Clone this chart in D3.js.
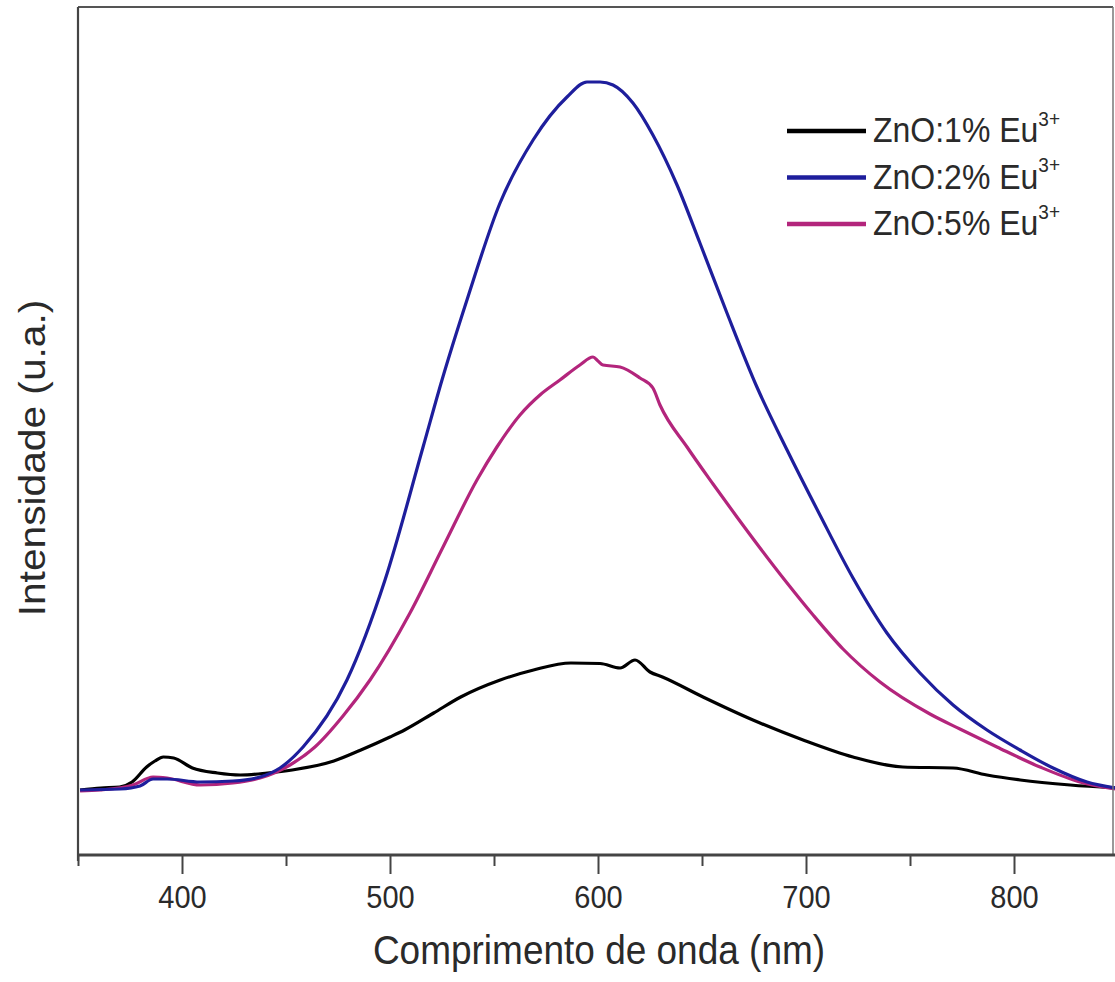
<!DOCTYPE html>
<html>
<head>
<meta charset="utf-8">
<script src="https://cdn.jsdelivr.net/npm/d3@7"></script>
<style>
  html, body { margin: 0; padding: 0; background: #fff; }
  svg { display: block; }
  text { font-family: "Liberation Sans", Arial, Helvetica, sans-serif; fill: #2a2a2a; }
</style>
</head>
<body>
<svg id="chart" width="1115" height="982"></svg>
<script>
// ---- Data ----
const seriesNames = ["ZnO:1% Eu", "ZnO:2% Eu", "ZnO:5% Eu"];
const seriesColors = ["#000000", "#1e1e9c", "#b3257c"];

const black_nm = [351, 361, 370, 376, 383, 387, 391, 396, 405, 417, 428, 441, 453, 473, 486, 500, 507, 521, 534, 553, 569, 587, 601, 610.6, 617.8, 625, 631, 650.5, 674.5, 698.6, 722.6, 746.6, 770.7, 787, 803, 827, 849];
const black_I  = [-10, 10, 20, 70, 220, 280, 320, 310, 210, 160, 140, 160, 190, 280, 390, 520, 590, 760, 920, 1090, 1190, 1260, 1255, 1210, 1290, 1170, 1120, 920, 690, 490, 320, 220, 210, 140, 90, 40, 10];

const blue_nm = [351, 370.2, 379.8, 386.1, 392.8, 408.7, 424.5, 437.5, 447.1, 458.2, 479.3, 497.6, 515.9, 525, 537, 552.9, 568.8, 585.1, 594.7, 601, 607.2, 616.8, 626.4, 638, 649, 662, 676.4, 690.9, 706.7, 722.6, 738.9, 754.8, 770.7, 787, 802.9, 818.8, 835.1, 848.6];
const blue_I  = [-10, 0, 30, 100, 100, 70, 80, 120, 210, 420, 1090, 2090, 3420, 4090, 4890, 5860, 6490, 6920, 7070, 7070, 7040, 6860, 6540, 6040, 5460, 4760, 4020, 3390, 2740, 2110, 1560, 1160, 840, 590, 390, 210, 70, 10];

const magenta_nm = [351, 360.6, 376.4, 386.1, 392.8, 408.7, 424.5, 437.5, 451.9, 463.9, 477.4, 490.4, 509.6, 525.5, 541.8, 551.4, 562.5, 572.1, 581.7, 591.3, 597.6, 600, 602.4, 610.6, 620.2, 626.4, 629.8, 642.8, 655.3, 666.8, 677.9, 690.9, 703.4, 717.8, 735.6, 759.6, 774, 791.8, 812.5, 831.7, 848.6];
const magenta_I  = [-20, -10, 40, 120, 110, 40, 60, 110, 240, 420, 730, 1090, 1760, 2420, 3090, 3420, 3740, 3940, 4090, 4240, 4320, 4280, 4240, 4220, 4110, 4010, 3840, 3420, 3050, 2720, 2410, 2060, 1740, 1400, 1070, 750, 600, 420, 220, 70, 0];

const xMajorTicks = [400, 500, 600, 700, 800];
const xMinorTicks = [350, 450, 550, 650, 750, 850];
const xTitle = "Comprimento de onda (nm)";
const yTitle = "Intensidade (u.a.)";
const supText = "3+";

// ---- Layout ----
const svg = d3.select("#chart");
const pLeft = 78, pRight = 1113, pTop = 7, pBottom = 855;
const x = d3.scaleLinear().domain([350, 850]).range([78, 1118]);
const y = d3.scaleLinear().domain([-660, 7820]).range([855, 7]);
const VS = 1.1; // vertical stretch of text in reference

const series = [
  { name: seriesNames[0], color: seriesColors[0], nm: black_nm, I: black_I },
  { name: seriesNames[1], color: seriesColors[1], nm: blue_nm, I: blue_I },
  { name: seriesNames[2], color: seriesColors[2], nm: magenta_nm, I: magenta_I }
];

svg.append("clipPath").attr("id", "clip")
  .append("rect").attr("x", pLeft).attr("y", pTop).attr("width", 1115 - pLeft).attr("height", pBottom - pTop);

const line = d3.line()
  .x(d => x(d[0]))
  .y(d => y(d[1]))
  .curve(d3.curveMonotoneX);

const plot = svg.append("g").attr("clip-path", "url(#clip)");
[series[0], series[2], series[1]].forEach(s => {
  const pts = s.nm.map((v, i) => [v, s.I[i]]);
  plot.append("path")
    .attr("d", line(pts))
    .attr("fill", "none")
    .attr("stroke", s.color)
    .attr("stroke-width", 3.2)
    .attr("stroke-linejoin", "round");
});

// ---- Frame ----
svg.append("line").attr("x1", pLeft).attr("x2", pRight).attr("y1", pTop).attr("y2", pTop)
  .attr("stroke", "#555").attr("stroke-width", 1.8);
svg.append("line").attr("x1", pRight).attr("x2", pRight).attr("y1", pTop).attr("y2", pBottom)
  .attr("stroke", "#777").attr("stroke-width", 1.5);
svg.append("line").attr("x1", pLeft).attr("x2", pLeft).attr("y1", pTop).attr("y2", pBottom + 6)
  .attr("stroke", "#444").attr("stroke-width", 2.2);
svg.append("line").attr("x1", pLeft).attr("x2", 1115).attr("y1", pBottom).attr("y2", pBottom)
  .attr("stroke", "#444").attr("stroke-width", 3);

// ---- X axis ----
const gMajor = svg.append("g").attr("transform", `translate(0,${pBottom})`)
  .call(d3.axisBottom(x).tickValues(xMajorTicks).tickSize(19).tickSizeOuter(0).tickFormat(d3.format("d")));
gMajor.select(".domain").remove();
gMajor.selectAll(".tick line").attr("stroke", "#444").attr("stroke-width", 2);
gMajor.selectAll(".tick text")
  .attr("font-size", 29)
  .attr("font-family", "Liberation Sans, Arial, sans-serif")
  .attr("fill", "#2a2a2a")
  .attr("dy", null)
  .attr("y", 53 / VS)
  .attr("transform", `scale(1,${VS})`);

const gMinor = svg.append("g").attr("transform", `translate(0,${pBottom})`)
  .call(d3.axisBottom(x).tickValues(xMinorTicks).tickSize(11).tickSizeOuter(0).tickFormat(""));
gMinor.select(".domain").remove();
gMinor.selectAll(".tick line").attr("stroke", "#444").attr("stroke-width", 2);

// ---- Axis titles ----
svg.append("g").attr("transform", `translate(599,964) scale(1,${VS})`)
  .append("text").attr("text-anchor", "middle").attr("font-size", 37).text(xTitle);

svg.append("g").attr("transform", `translate(45,458) scale(1,${VS}) rotate(-90)`)
  .append("text").attr("text-anchor", "middle").attr("font-size", 37).text(yTitle);

// ---- Legend ----
const legend = svg.append("g");
series.forEach((s, i) => {
  const ly = 131 + i * 46.5;
  legend.append("line")
    .attr("x1", 787).attr("x2", 866).attr("y1", ly).attr("y2", ly)
    .attr("stroke", s.color).attr("stroke-width", 4.5);
  const t = legend.append("g").attr("transform", `translate(873,${ly + 11}) scale(1,${VS})`)
    .append("text").attr("font-size", 32);
  t.append("tspan").text(s.name);
  t.append("tspan").attr("font-size", 19).attr("dy", -15).text(supText);
});
</script>
</body>
</html>
